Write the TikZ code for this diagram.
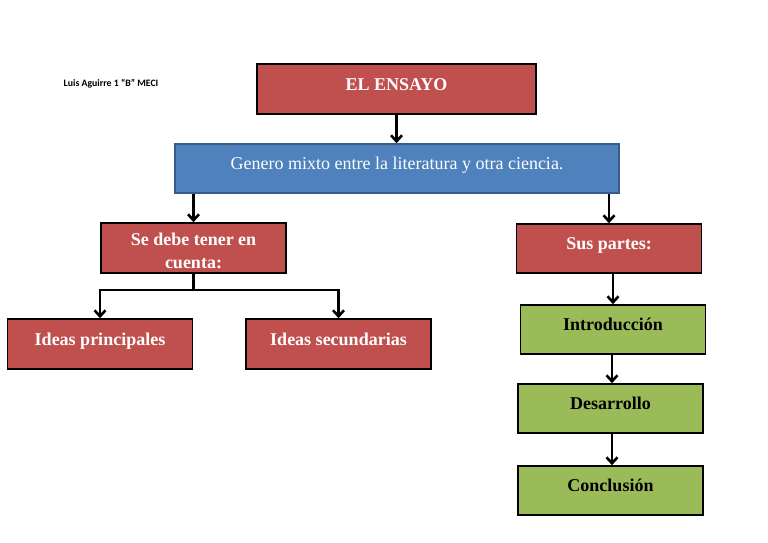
\documentclass[tikz,border=0pt]{standalone}
\usepackage{fontspec}
\setmainfont{Liberation Serif}
\newfontfamily\labelfont{Carlito}
\usetikzlibrary{arrows.meta, positioning}

\definecolor{essayred}{HTML}{C0504D}
\definecolor{essayblue}{HTML}{4F81BD}
\definecolor{blueedge}{HTML}{385D8A}
\definecolor{essaygreen}{HTML}{9BBB59}

\begin{document}
\begin{tikzpicture}[
  x=1pt, y=-1pt,
  every node/.style={draw=black, line width=1.6pt, inner sep=0pt,
                     font=\fontsize{18}{23}\selectfont\bfseries,
                     text height=12pt, text depth=10pt,
                     minimum width=185pt, minimum height=49pt},
  redbox/.style={fill=essayred, text=white},
  greenbox/.style={fill=essaygreen, text=black},
  bluebox/.style={fill=essayblue, draw=blueedge, text=white,
                  font=\fontsize{18}{23}\selectfont},
  arr/.style={-{Straight Barb[length=6pt, width=11pt]}, line width=2.6pt},
  lbl/.style={draw=none, fill=none, minimum width=0pt, minimum height=0pt,
              text height=, text depth=,
              font=\labelfont\fontsize{9.8}{11}\selectfont\bfseries}
]
  \useasboundingbox (0,0) rectangle (768,543);

  % Title
  \node[redbox, minimum width=279pt, minimum height=50pt] (ens) at (396.5,89) {EL ENSAYO};
  \node[bluebox, minimum width=444pt] (gen) at (397,168.5)
       {Genero mixto entre la literatura y otra ciencia.};

  % Left branch
  \node[redbox, minimum height=50pt, align=center, text height=40pt, text depth=0pt]
       (sd) at (193.5,248) {Se debe tener en\\cuenta:};
  \node[redbox, minimum height=50pt] (ip) at (100,344)   {Ideas principales};
  \node[redbox, minimum height=50pt] (is) at (338.5,344) {Ideas secundarias};

  % Right branch
  \node[redbox]   (sus)   at (609,248.5)   {Sus partes:};
  \node[greenbox] (intro) at (613,329.5)   {Introducción};
  \node[greenbox] (desa)  at (610.5,408.5) {Desarrollo};
  \node[greenbox] (concl) at (610.5,490.5) {Conclusión};

  % Author
  \node[lbl] (auth) at (111,84) {Luis Aguirre 1 “B” MECI};

  % Arrows
  \draw[arr] (ens.south) -- (ens.south |- gen.north);
  \draw[arr] (gen.south -| sd) -- (sd);
  \draw[arr] (gen.south -| sus) -- (sus);
  \draw[arr] (sd.south) -- ++(0,16) -| (ip.north);
  \draw[arr] (sd.south) -- ++(0,16) -| (is.north);
  \draw[arr] (sus.south -| intro) -- (intro);
  \draw[arr] ([xshift=-1pt]intro.south) -- ([xshift=-1pt]intro.south |- desa.north);
  \draw[arr] ([xshift=1.5pt]desa.south) -- ([xshift=1.5pt]desa.south |- concl.north);
\end{tikzpicture}
\end{document}
